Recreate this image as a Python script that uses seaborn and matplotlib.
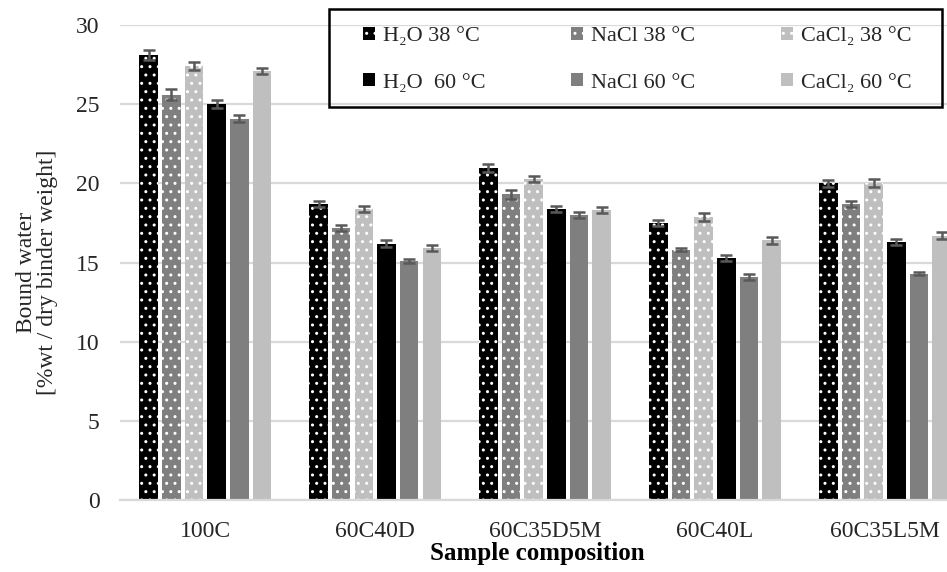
import numpy as np
import pandas as pd
import matplotlib
matplotlib.use("Agg")
import matplotlib.pyplot as plt
import seaborn as sns
from matplotlib.patches import Patch, Rectangle

samples = ["100C", "60C40D", "60C35D5M", "60C40L", "60C35L5M"]
series = ["H2O 38", "NaCl 38", "CaCl2 38", "H2O 60", "NaCl 60", "CaCl2 60"]
legend_labels = ["H₂O 38 °C", "NaCl 38 °C", "CaCl₂ 38 °C",
                 "H₂O  60 °C", "NaCl 60 °C", "CaCl₂ 60 °C"]

h2o_38 = [28.1, 18.7, 21.0, 17.5, 20.0]
nacl_38 = [25.6, 17.2, 19.3, 15.8, 18.7]
cacl2_38 = [27.4, 18.4, 20.3, 17.9, 20.0]
h2o_60 = [25.0, 16.2, 18.4, 15.3, 16.3]
nacl_60 = [24.1, 15.1, 18.0, 14.1, 14.3]
cacl2_60 = [27.1, 15.9, 18.3, 16.4, 16.7]

err_h2o_38 = [0.3, 0.2, 0.25, 0.2, 0.2]
err_nacl_38 = [0.35, 0.2, 0.3, 0.1, 0.2]
err_cacl2_38 = [0.25, 0.2, 0.2, 0.25, 0.25]
err_h2o_60 = [0.25, 0.2, 0.2, 0.2, 0.2]
err_nacl_60 = [0.25, 0.1, 0.2, 0.2, 0.1]
err_cacl2_60 = [0.2, 0.2, 0.2, 0.2, 0.2]

values = [h2o_38, nacl_38, cacl2_38, h2o_60, nacl_60, cacl2_60]
errors = [err_h2o_38, err_nacl_38, err_cacl2_38, err_h2o_60, err_nacl_60, err_cacl2_60]

colors = ["#000000", "#7f7f7f", "#bfbfbf", "#000000", "#7f7f7f", "#bfbfbf"]
hatched = [True, True, True, False, False, False]

rows = []
for s, vals, errs in zip(series, values, errors):
    for samp, v, e in zip(samples, vals, errs):
        rows.append({"sample": samp, "series": s, "value": v, "err": e})
df = pd.DataFrame(rows)

sns.set_theme(style="white")
plt.rcParams["font.family"] = ["Liberation Serif", "DejaVu Serif"]
plt.rcParams["hatch.linewidth"] = 1.0

fig = plt.figure(figsize=(9.47, 5.72), dpi=100)
ax = fig.add_axes([0.127, 0.126, 0.873, 0.83])

sns.barplot(data=df, x="sample", y="value", hue="series", order=samples,
            hue_order=series, palette=colors, errorbar=None, width=0.8,
            gap=0.18, legend=False, ax=ax)

# style bars and add error bars
bar_containers = list(ax.containers)
for i, cont in enumerate(bar_containers):
    errs = errors[i]
    xs, ys = [], []
    for bar in cont:
        if hatched[i]:
            bar.set_hatch("..")
            bar.set_edgecolor("white")
        else:
            bar.set_edgecolor(colors[i])
        bar.set_linewidth(0)
        xs.append(bar.get_x() + bar.get_width() / 2)
        ys.append(bar.get_height())
    ax.errorbar(xs, ys, yerr=errs, fmt="none", ecolor="#595959",
                elinewidth=1.8, capsize=4.5, capthick=1.8, zorder=3)

ax.set_ylim(0, 30)
ax.set_yticks(np.arange(0, 31, 5))
ax.set_xlim(-0.5, 4.365)
ax.yaxis.grid(True, color="#d9d9d9", linewidth=1.6)
ax.set_axisbelow(True)
for sp in ["top", "right", "left"]:
    ax.spines[sp].set_visible(False)
ax.spines["bottom"].set_color("#d9d9d9")
ax.spines["bottom"].set_linewidth(1.6)
ax.tick_params(axis="both", length=0, labelsize=17, colors="#262626")
ax.tick_params(axis="x", pad=15)
ax.tick_params(axis="y", pad=15)

ax.set_ylabel("Bound water\n[%wt / dry binder weight]", fontsize=17, color="#262626",
              linespacing=1.0)
ax.yaxis.set_label_coords(-0.075, 0.48)
ax.set_xlabel("Sample composition", fontsize=18, fontweight="bold", color="#000000")
ax.xaxis.set_label_coords(0.504, -0.088)

# legend, frame drawn separately so padding can differ in x and y
order = [0, 3, 1, 4, 2, 5]
handles = []
for k in order:
    handles.append(Patch(facecolor=colors[k], edgecolor="white" if hatched[k] else colors[k],
                         hatch=".." if hatched[k] else None, linewidth=0,
                         label=legend_labels[k]))
leg = fig.legend(handles=handles, ncol=3, loc="upper left",
                 bbox_to_anchor=(363 / 947, 1 - 27 / 572), frameon=False, fontsize=16,
                 handlelength=0.54, handleheight=0.54, handletextpad=0.36,
                 columnspacing=3.85, labelspacing=1.2, borderpad=0,
                 borderaxespad=0)
fig.patches.append(Rectangle((329 / 947, 1 - 107 / 572), 613 / 947, 98 / 572,
                             transform=fig.transFigure, fill=False,
                             edgecolor="black", linewidth=1.8, zorder=5))

fig.savefig("out.png", dpi=100)
